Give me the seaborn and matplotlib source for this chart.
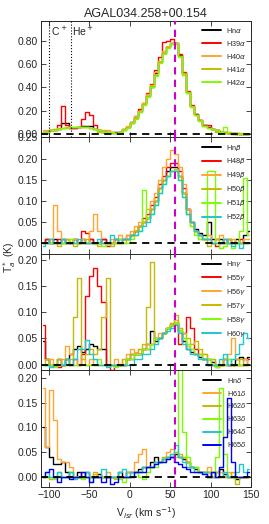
import numpy as np
import matplotlib
matplotlib.use('Agg')
import matplotlib.pyplot as plt
import seaborn as sns

# channel centres (5 km/s channels from -110 to 150 km/s)
vel = np.arange(-107.5, 150, 5)

vlsr = 56.0
c_plus, he_plus = -100.0, -73.0

# ---- alpha lines ----
hn_alpha = [0.02, 0.02, 0.03, 0.03, 0.04, 0.09, 0.09, 0.05, 0.05, 0.06,
            0.07, 0.07, 0.07, 0.04, 0.03, 0.02, 0.02, 0.01, 0.02, 0.02,
            0.04, 0.06, 0.10, 0.14, 0.20, 0.26, 0.33, 0.40, 0.52, 0.62,
            0.70, 0.75, 0.78, 0.78, 0.68, 0.52, 0.36, 0.24, 0.17, 0.12,
            0.08, 0.06, 0.04, 0.03, 0.02, 0.02, 0.01, 0.01, 0.00, 0.00,
            0.00, 0.00]
h39_alpha = [0.02, 0.02, 0.03, 0.03, 0.08, 0.24, 0.08, 0.05, 0.05, 0.06,
             0.13, 0.19, 0.16, 0.08, 0.03, 0.02, 0.01, 0.02, 0.01, 0.02,
             0.03, 0.06, 0.09, 0.15, 0.21, 0.27, 0.35, 0.43, 0.55, 0.66,
             0.79, 0.80, 0.82, 0.78, 0.69, 0.53, 0.37, 0.25, 0.17, 0.12,
             0.08, 0.08, 0.04, 0.03, 0.02, 0.01, 0.01, 0.00, 0.01, 0.00,
             0.00, 0.00]
h40_alpha = [0.03, 0.03, 0.03, 0.04, 0.05, 0.05, 0.06, 0.06, 0.06, 0.06,
             0.06, 0.06, 0.05, 0.04, 0.03, 0.02, 0.03, 0.02, 0.01, 0.02,
             0.04, 0.07, 0.10, 0.15, 0.20, 0.27, 0.34, 0.42, 0.53, 0.63,
             0.71, 0.76, 0.78, 0.77, 0.67, 0.51, 0.35, 0.24, 0.16, 0.12,
             0.07, 0.05, 0.04, 0.03, 0.02, 0.01, 0.02, 0.01, 0.00, 0.01,
             0.00, 0.00]
h41_alpha = [0.02, 0.02, 0.03, 0.04, 0.04, 0.05, 0.05, 0.06, 0.06, 0.06,
             0.06, 0.06, 0.05, 0.04, 0.02, 0.03, 0.02, 0.01, 0.01, 0.02,
             0.03, 0.06, 0.09, 0.14, 0.19, 0.26, 0.33, 0.41, 0.51, 0.62,
             0.70, 0.75, 0.77, 0.78, 0.67, 0.52, 0.36, 0.23, 0.16, 0.11,
             0.07, 0.05, 0.04, 0.02, 0.02, 0.02, 0.01, 0.01, 0.01, 0.00,
             0.00, 0.00]
h42_alpha = [0.02, 0.02, 0.03, 0.03, 0.04, 0.05, 0.05, 0.06, 0.06, 0.06,
             0.06, 0.06, 0.05, 0.04, 0.03, 0.02, 0.02, 0.02, 0.01, 0.02,
             0.03, 0.05, 0.09, 0.13, 0.19, 0.25, 0.32, 0.40, 0.50, 0.61,
             0.69, 0.74, 0.77, 0.78, 0.66, 0.51, 0.35, 0.23, 0.16, 0.11,
             0.07, 0.05, 0.04, 0.03, 0.02, 0.06, 0.02, 0.01, 0.00, 0.00,
             0.00, 0.00]

# ---- beta lines ----
hn_beta = [0.00, 0.01, 0.00, 0.01, 0.00, 0.01, 0.00, 0.00, 0.01, 0.00,
           0.01, 0.00, 0.01, 0.00, 0.00, 0.01, 0.00, 0.00, 0.01, 0.01,
           0.01, 0.01, 0.02, 0.03, 0.04, 0.05, 0.06, 0.08, 0.10, 0.13,
           0.15, 0.17, 0.18, 0.18, 0.16, 0.12, 0.08, 0.05, 0.035, 0.025,
           0.02, 0.05, 0.01, 0.01, 0.01, 0.00, 0.01, 0.00, 0.01, 0.00,
           0.02, 0.03]
h48_beta = [0.00, 0.01, 0.00, 0.00, 0.01, 0.00, 0.01, 0.00, 0.01, 0.00,
            0.03, 0.025, 0.01, 0.00, 0.00, 0.01, -0.005, 0.00, 0.01, 0.00,
            0.01, 0.02, 0.02, 0.03, 0.04, 0.06, 0.07, 0.09, 0.11, 0.14,
            0.16, 0.18, 0.19, 0.19, 0.17, 0.13, 0.08, 0.05, 0.03, 0.02,
            0.01, 0.01, 0.00, -0.005, 0.00, 0.01, 0.00, 0.00, 0.00, 0.01,
            0.00, 0.00]
h49_beta = [0.00, 0.00, 0.01, 0.09, 0.03, 0.01, 0.00, 0.00, 0.01, 0.00,
            0.01, 0.00, 0.03, 0.07, 0.03, 0.00, 0.00, 0.01, 0.00, 0.02,
            0.01, 0.02, 0.03, 0.04, 0.05, 0.05, 0.08, 0.10, 0.12, 0.15,
            0.18, 0.20, 0.22, 0.21, 0.18, 0.14, 0.08, 0.05, 0.03, 0.02,
            0.01, 0.02, 0.00, 0.01, 0.02, 0.00, 0.00, 0.01, 0.00, 0.00,
            0.01, 0.01]
h50_beta = [0.00, 0.00, 0.01, 0.00, -0.005, 0.00, 0.01, 0.00, -0.005, 0.00,
            0.00, 0.01, 0.00, 0.00, -0.005, 0.00, 0.00, -0.005, 0.00, 0.00,
            0.00, 0.01, 0.02, 0.03, 0.04, 0.05, 0.06, 0.08, 0.10, 0.13,
            0.15, 0.16, 0.17, 0.175, 0.16, 0.12, 0.07, 0.04, 0.03, 0.01,
            0.01, -0.005, 0.00, 0.01, 0.00, 0.00, 0.01, 0.00, 0.00, 0.00,
            0.00, 0.00]
h51_beta = [0.00, 0.00, 0.00, 0.00, 0.00, 0.00, 0.00, 0.01, 0.00, 0.00,
            0.00, 0.00, 0.00, 0.00, 0.00, -0.005, 0.00, 0.00, 0.00, 0.01,
            0.00, 0.00, 0.01, 0.02, 0.03, 0.125, 0.06, 0.07, 0.09, 0.12,
            0.14, 0.16, 0.17, 0.17, 0.15, 0.11, 0.07, 0.04, 0.02, 0.01,
            0.01, 0.17, 0.17, 0.00, -0.01, -0.005, 0.00, -0.01, 0.00, 0.03,
            0.155, 0.02]
h52_beta = [-0.005, 0.00, 0.01, 0.00, 0.00, 0.01, 0.00, 0.00, 0.00, 0.01,
            0.00, 0.00, 0.00, 0.00, 0.01, 0.00, 0.00, 0.02, 0.01, 0.00,
            0.01, 0.01, 0.02, 0.02, 0.03, 0.04, 0.05, 0.07, 0.09, 0.12,
            0.14, 0.16, 0.17, 0.17, 0.15, 0.11, 0.07, 0.05, 0.03, 0.02,
            0.01, 0.01, 0.00, 0.00, 0.00, 0.01, 0.00, -0.005, 0.00, -0.01,
            0.00, 0.00]

# ---- gamma lines ----
hn_gamma = [0.045, 0.01, 0.00, 0.00, 0.01, 0.00, 0.01, 0.02, 0.03, 0.035,
            0.025, 0.03, 0.04, 0.035, 0.03, 0.03, 0.00, 0.00, 0.00, 0.00,
            0.00, 0.01, 0.02, 0.02, 0.02, 0.03, 0.04, 0.065, 0.045, 0.05,
            0.06, 0.07, 0.075, 0.08, 0.065, 0.045, 0.03, 0.025, 0.02, 0.015,
            0.01, 0.01, 0.005, 0.00, 0.00, 0.01, 0.00, 0.00, 0.01, 0.015,
            0.01, 0.015]
h55_gamma = [0.075, 0.01, 0.00, 0.00, -0.005, 0.00, 0.01, 0.00, 0.01, 0.00,
             0.02, 0.13, 0.17, 0.185, 0.15, 0.12, 0.00, -0.01, 0.00, 0.00,
             0.00, 0.01, 0.01, 0.02, 0.02, 0.03, 0.03, 0.04, 0.05, 0.05,
             0.06, 0.07, 0.075, 0.08, 0.04, 0.06, 0.09, 0.07, 0.03, 0.02,
             0.01, 0.00, 0.00, -0.005, 0.00, 0.00, 0.00, 0.00, 0.00, 0.00,
             0.00, 0.01]
h56_gamma = [0.00, 0.00, 0.01, 0.00, 0.00, 0.01, 0.035, 0.02, 0.01, 0.00,
             0.01, 0.00, 0.01, 0.00, 0.00, 0.00, 0.00, 0.00, 0.01, 0.00,
             0.01, 0.02, 0.03, 0.025, 0.03, 0.03, 0.04, 0.04, 0.05, 0.06,
             0.06, 0.07, 0.08, 0.085, 0.07, 0.05, 0.035, 0.03, 0.02, 0.02,
             0.02, 0.01, 0.01, 0.00, 0.00, 0.01, 0.02, 0.05, 0.01, 0.00,
             0.01, 0.00]
h57_gamma = [0.00, 0.01, 0.00, 0.00, 0.01, 0.00, 0.00, 0.01, 0.09, 0.165,
             0.01, 0.02, 0.03, 0.02, 0.03, 0.09, 0.165, 0.00, 0.00, 0.00,
             0.01, 0.01, 0.02, 0.02, 0.03, 0.04, 0.11, 0.195, 0.05, 0.05,
             0.06, 0.07, 0.08, 0.095, 0.07, 0.06, 0.05, 0.04, 0.045, 0.03,
             0.02, 0.01, 0.01, 0.00, 0.00, 0.01, 0.01, 0.00, 0.00, 0.01,
             0.00, 0.00]
h58_gamma = [0.00, 0.00, 0.00, -0.005, 0.00, 0.00, 0.01, 0.00, 0.00, 0.00,
             0.00, 0.00, 0.00, 0.00, 0.01, 0.00, 0.00, 0.00, -0.005, 0.00,
             0.00, 0.01, 0.01, 0.02, 0.02, 0.03, 0.03, 0.04, 0.05, 0.05,
             0.06, 0.07, 0.075, 0.08, 0.065, 0.05, 0.04, 0.03, 0.02, 0.02,
             0.01, 0.01, 0.00, -0.005, 0.00, 0.00, 0.01, 0.00, 0.00, 0.00,
             0.00, 0.00]
h60_gamma = [0.00, 0.00, -0.005, 0.00, 0.00, 0.00, 0.01, 0.00, 0.01, 0.03,
             0.03, 0.048, 0.02, 0.01, 0.00, 0.00, -0.005, 0.00, 0.00, 0.00,
             0.00, 0.00, 0.00, 0.01, 0.01, 0.02, 0.02, 0.03, 0.04, 0.05,
             0.06, 0.065, 0.07, 0.075, 0.06, 0.04, 0.03, 0.02, 0.02, 0.01,
             0.01, 0.00, 0.00, 0.00, 0.01, 0.02, 0.00, 0.01, 0.02, 0.04,
             0.06, 0.05]

# ---- delta lines ----
hn_delta = [0.10, 0.06, 0.04, 0.025, 0.025, 0.03, 0.01, 0.00, 0.00, 0.01,
            0.00, 0.01, 0.00, 0.00, 0.005, 0.00, 0.00, 0.00, 0.00, 0.01,
            0.00, 0.01, 0.01, 0.01, 0.015, 0.02, 0.02, 0.03, 0.04, 0.03,
            0.035, 0.04, 0.04, 0.045, 0.04, 0.035, 0.03, 0.02, 0.015, 0.01,
            0.01, 0.01, 0.00, 0.01, 0.015, 0.005, 0.00, 0.00, -0.005, 0.00,
            0.00, 0.00]
h61_delta = [0.18, 0.06, 0.175, 0.115, 0.035, 0.03, 0.03, 0.02, 0.00, 0.00,
             0.01, 0.00, 0.00, 0.005, 0.00, 0.00, 0.01, 0.00, 0.00, 0.00,
             0.00, 0.01, 0.01, 0.03, 0.045, 0.055, 0.02, 0.02, 0.03, 0.03,
             0.04, 0.05, 0.055, 0.05, 0.04, 0.04, 0.03, 0.02, 0.02, 0.01,
             0.01, 0.02, 0.01, 0.00, 0.01, 0.00, 0.01, 0.00, 0.00, 0.00,
             0.00, 0.00]
h62_delta = [0.00, 0.00, -0.005, 0.00, 0.01, 0.00, 0.00, 0.01, 0.00, 0.00,
             0.00, 0.00, 0.00, 0.01, 0.00, 0.00, 0.00, 0.00, -0.005, 0.00,
             0.00, 0.00, 0.01, 0.01, 0.01, 0.02, 0.02, 0.02, 0.03, 0.03,
             0.04, 0.04, 0.045, 0.05, 0.045, 0.04, 0.03, 0.02, 0.02, 0.01,
             0.01, 0.01, 0.00, 0.01, 0.00, 0.00, 0.00, 0.01, -0.015, 0.00,
             0.00, 0.00]
h63_delta = [0.00, 0.00, 0.00, -0.005, 0.00, 0.00, 0.00, 0.01, 0.00, 0.00,
             -0.005, 0.00, 0.00, 0.00, 0.00, 0.00, 0.00, 0.00, 0.00, -0.005,
             -0.01, 0.00, 0.00, 0.01, 0.00, -0.005, 0.01, 0.02, 0.02, 0.03,
             0.03, 0.035, 0.04, 0.04, 0.30, 0.09, 0.04, 0.02, 0.02, 0.01,
             0.01, 0.00, 0.01, 0.04, 0.18, 0.045, 0.00, 0.00, 0.00, 0.00,
             0.00, 0.00]
h64_delta = [0.00, 0.01, 0.00, 0.00, 0.01, 0.00, 0.00, 0.01, -0.005, 0.00,
             0.00, 0.01, -0.01, 0.00, 0.00, 0.015, 0.00, 0.00, 0.00, 0.01,
             0.015, 0.00, 0.01, 0.01, 0.01, 0.02, 0.02, 0.02, 0.03, 0.03,
             0.035, 0.04, 0.045, 0.065, 0.04, 0.03, 0.02, 0.02, 0.01, 0.01,
             0.01, 0.00, 0.01, 0.00, 0.00, 0.01, 0.00, 0.00, 0.01, 0.025,
             0.01, 0.015]
h65_delta = [0.00, 0.01, 0.015, 0.00, -0.01, 0.00, 0.00, -0.005, 0.00, 0.00,
             0.01, 0.00, -0.01, 0.00, 0.00, -0.01, 0.00, -0.015, -0.01, 0.00,
             0.00, 0.00, 0.00, 0.01, 0.01, 0.01, 0.02, 0.02, 0.025, 0.03,
             0.03, 0.035, 0.04, 0.03, 0.025, 0.02, 0.015, 0.01, 0.01, 0.01,
             0.005, 0.00, 0.01, 0.00, 0.02, 0.08, 0.16, 0.03, 0.00, 0.00,
             0.00, 0.01]

black, red, orange = 'k', '#ff0000', '#ffa530'
olive, green, cyan, blue = '#c4bb00', '#7cfc00', '#1cc8d0', '#0000ff'

panels = [
    ([hn_alpha, h39_alpha, h40_alpha, h41_alpha, h42_alpha],
     ['Hn$\\alpha$', 'H39$\\alpha$', 'H40$\\alpha$', 'H41$\\alpha$', 'H42$\\alpha$'],
     [black, red, orange, olive, green], (-0.031, 0.972), np.arange(0, 0.81, 0.2)),
    ([hn_beta, h48_beta, h49_beta, h50_beta, h51_beta, h52_beta],
     ['Hn$\\beta$', 'H48$\\beta$', 'H49$\\beta$', 'H50$\\beta$', 'H51$\\beta$', 'H52$\\beta$'],
     [black, red, orange, olive, green, cyan], (-0.025, 0.25), np.arange(0, 0.26, 0.05)),
    ([hn_gamma, h55_gamma, h56_gamma, h57_gamma, h58_gamma, h60_gamma],
     ['Hn$\\gamma$', 'H55$\\gamma$', 'H56$\\gamma$', 'H57$\\gamma$', 'H58$\\gamma$', 'H60$\\gamma$'],
     [black, red, orange, olive, green, cyan], (-0.011, 0.211), np.arange(0, 0.21, 0.05)),
    ([hn_delta, h61_delta, h62_delta, h63_delta, h64_delta, h65_delta],
     ['Hn$\\delta$', 'H61$\\delta$', 'H62$\\delta$', 'H63$\\delta$', 'H64$\\delta$', 'H65$\\delta$'],
     [black, orange, olive, green, cyan, blue], (-0.021, 0.215), np.arange(0, 0.21, 0.05)),
]

sns.set_style('ticks')
plt.rcParams['font.family'] = ['Liberation Sans', 'DejaVu Sans']
plt.rcParams['mathtext.fontset'] = 'dejavusans'

fig, axes = plt.subplots(4, 1, figsize=(2.69, 5.24), dpi=100, sharex=True)
fig.subplots_adjust(left=0.152, right=0.933, top=0.960, bottom=0.0706, hspace=0)

for ax, (series, labels, colors, ylim, yticks) in zip(axes, panels):
    for y, lab, col in zip(series, labels, colors):
        sns.lineplot(x=vel, y=y, ax=ax, color=col, label=lab, lw=1.0,
                     drawstyle='steps-mid', estimator=None, sort=False)
    ax.axhline(0, color='k', ls='--', lw=1.3, dashes=(4, 3), zorder=5)
    ax.axvline(vlsr, color='#cc00cc', ls='--', lw=1.5, dashes=(3.5, 2.5), zorder=6)
    ax.set_xlim(-110, 150)
    ax.set_ylim(*ylim)
    ax.set_yticks(yticks)
    ax.yaxis.set_major_formatter(matplotlib.ticker.FormatStrFormatter('%.2f'))
    ax.tick_params(direction='in', top=True, right=True, length=3.5, width=0.6,
                   labelsize=7.5, pad=2)
    for sp in ax.spines.values():
        sp.set_linewidth(0.7)
    ax.set_ylabel('')
    ax.legend(loc='upper right', frameon=False, fontsize=5.2, handlelength=2.6,
              handletextpad=0.7, labelspacing=0.55, borderaxespad=0.3)
    for ln in ax.get_legend().get_lines():
        ln.set_linewidth(1.4)

# ion markers in the alpha panel
ax0 = axes[0]
ax0.axvline(c_plus, color='k', ls=':', lw=0.8)
ax0.axvline(he_plus, color='k', ls=':', lw=0.8)
ax0.text(c_plus + 2, 0.84, 'C$^+$', fontsize=7.5)
ax0.text(he_plus + 1, 0.84, 'He$^+$', fontsize=7.5)
ax0.set_title('AGAL034.258+00.154', fontsize=9, pad=3)

axes[-1].set_xticks([-100, -50, 0, 50, 100, 150])
axes[-1].set_xlabel('V$_{lsr}$ (km s$^{-1}$)', fontsize=7.5, labelpad=4)
fig.text(0.035, 0.508, 'T$_a^*$ (K)', rotation=90, va='center', ha='center', fontsize=7.5)

fig.savefig('out.png', dpi=100)
